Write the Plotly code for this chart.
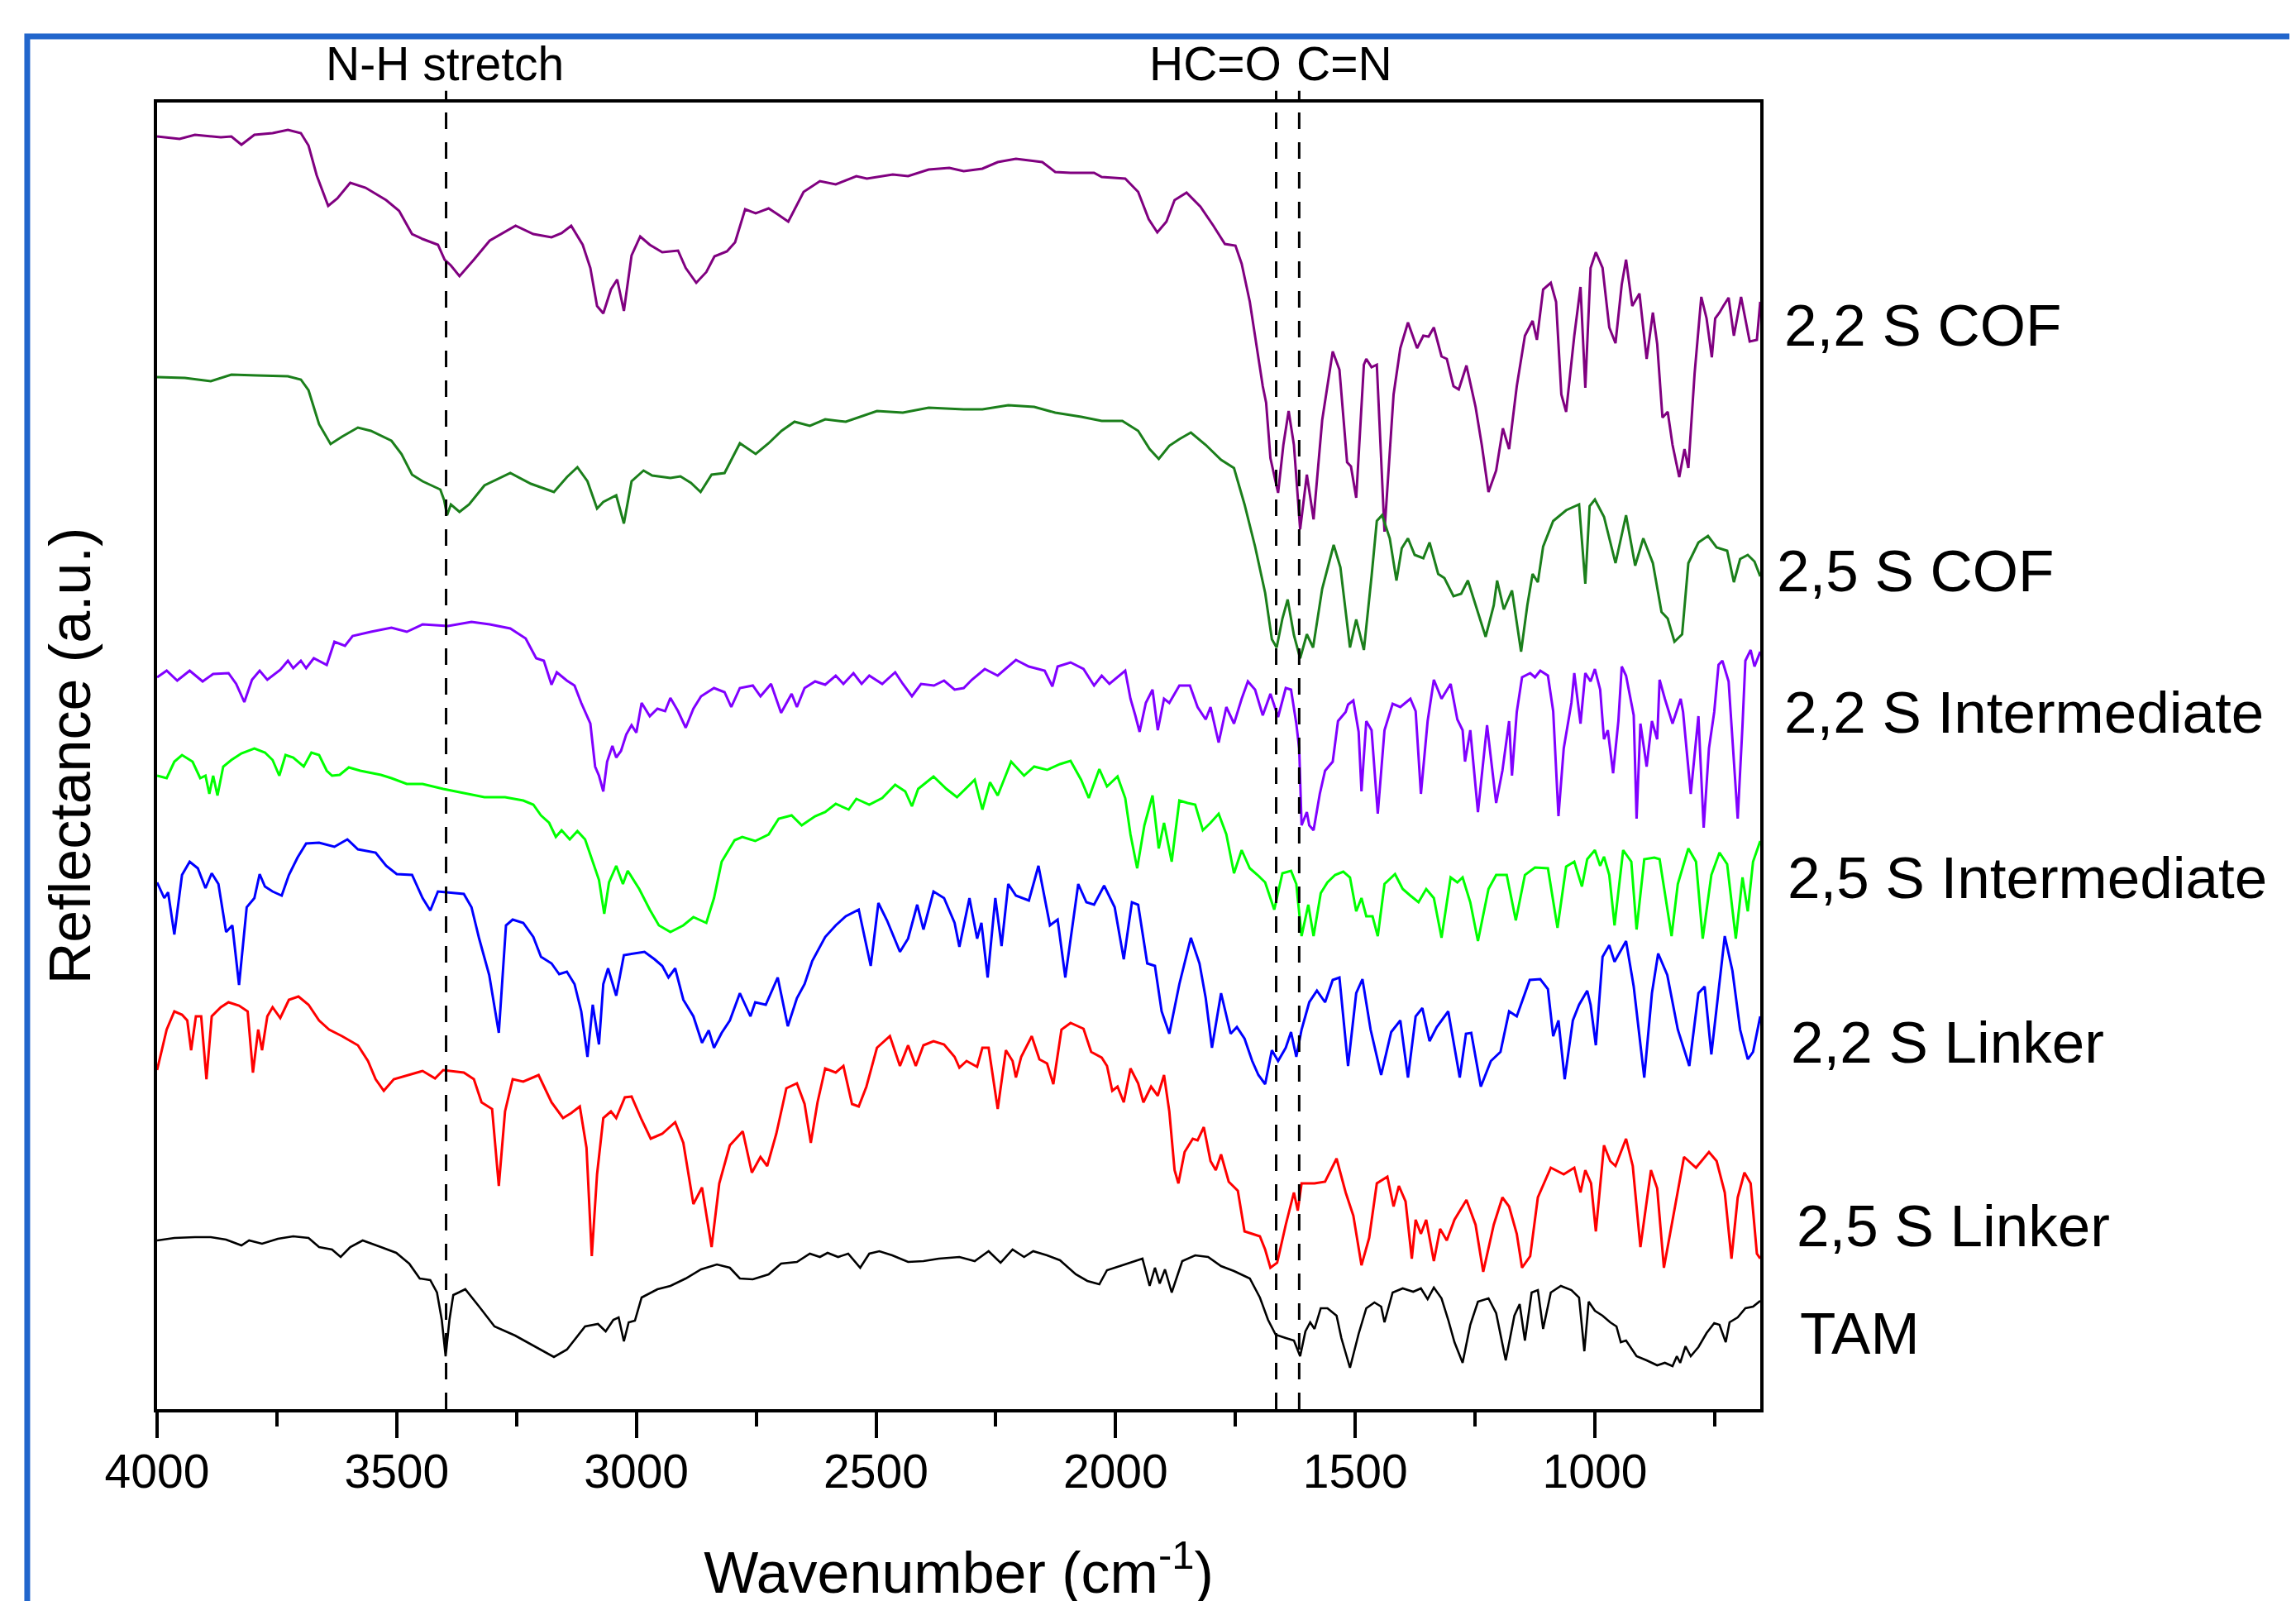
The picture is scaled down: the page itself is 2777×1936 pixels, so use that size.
import plotly.graph_objects as go

FONT = "Liberation Sans, Arial, sans-serif"

cof_22 = [(4000,153.9),(3953,153.6),(3921,154.1),(3867,153.8),(3845,153.9),(3824,152.9),(3797,154.1),(3759,154.3),(3727,154.7),(3700,154.3),(3684,152.8),(3667,149.2),(3643,145.5),(3624,146.4),(3597,148.3),(3565,147.7),(3522,146.2),(3495,144.9),(3468,142.1),(3446,141.5),(3414,140.8),(3400,139.0),(3387,138.3),(3369,137.0),(3339,139.0),(3306,141.3),(3252,143.1),(3215,142.1),(3177,141.7),(3156,142.2),(3136,143.1),(3112,140.8),(3096,138.0),(3082,133.4),(3069,132.5),(3053,135.4),(3040,136.6),(3026,132.8),(3010,139.5),(2992,141.8),(2972,140.8),(2946,139.9),(2913,140.1),(2897,138.0),(2875,136.2),(2854,137.5),(2837,139.4),(2811,140.0),(2794,141.1),(2773,145.1),(2751,144.6),(2724,145.2),(2703,144.4),(2683,143.6),(2651,147.2),(2617,148.5),(2584,148.1),(2541,149.1),(2519,148.8),(2465,149.3),(2433,149.1),(2390,149.9),(2347,150.1),(2317,149.7),(2278,150.0),(2246,150.8),(2208,151.2),(2153,150.8),(2126,149.6),(2094,149.5),(2045,149.5),(2029,149.0),(1980,148.8),(1953,147.2),(1931,143.9),(1913,142.3),(1894,143.6),(1877,146.2),(1852,147.1),(1823,145.4),(1796,143.1),(1772,140.9),(1750,140.7),(1737,138.5),(1720,133.9),(1704,127.8),(1693,123.7),(1686,121.7),(1677,115.0),(1661,110.8),(1650,116.6),(1639,120.7),(1628,116.6),(1615,106.4),(1601,113.0),(1587,107.6),(1569,119.6),(1547,127.9),(1533,125.7),(1517,114.5),(1509,114.0),(1498,110.2),(1482,126.3),(1477,127.0),(1466,126.0),(1455,126.3),(1439,106.1),(1420,122.7),(1406,128.3),(1390,131.4),(1371,128.3),(1358,129.8),(1347,129.7),(1336,130.8),(1320,127.3),(1309,127.0),(1295,123.7),(1284,123.3),(1268,126.2),(1249,121.2),(1236,116.6),(1222,110.9),(1206,113.5),(1192,118.6),(1179,116.1),(1163,123.7),(1146,129.8),(1130,131.6),(1121,129.3),(1108,135.4),(1092,136.2),(1081,133.9),(1070,122.7),(1060,120.6),(1043,129.8),(1030,135.7),(1020,123.5),(1009,138.0),(998,139.9),(984,138.0),(970,130.8),(957,128.9),(944,136.0),(935,139.0),(922,133.4),(907,134.9),(892,127.0),(879,132.6),(870,128.8),(859,119.9),(848,120.6),(838,116.6),(824,112.7),(813,116.1),(805,113.8),(792,125.2),(778,134.5),(767,131.9),(756,127.2),(749,131.9),(740,132.6),(732,133.4),(721,134.4),(710,129.8),(695,134.5),(677,129.1),(662,129.3),(655,133.9)]

cof_25 = [(4000,124.8),(3942,124.7),(3888,124.3),(3845,125.1),(3791,125.0),(3727,124.9),(3700,124.5),(3684,123.2),(3662,119.1),(3638,116.7),(3614,117.6),(3581,118.7),(3554,118.3),(3511,117.1),(3490,115.5),(3468,113.0),(3446,112.2),(3409,111.2),(3401,109.9),(3395,108.1),(3387,109.4),(3369,108.5),(3349,109.4),(3317,111.7),(3263,113.2),(3220,111.9),(3172,110.9),(3145,112.7),(3123,113.9),(3102,112.2),(3082,108.9),(3069,109.7),(3042,110.5),(3026,107.1),(3010,112.2),(2985,113.5),(2967,112.9),(2929,112.6),(2908,112.8),(2886,112.0),(2866,110.9),(2843,113.0),(2816,113.2),(2784,116.8),(2751,115.5),(2724,116.8),(2697,118.3),(2670,119.4),(2638,118.9),(2606,119.7),(2563,119.4),(2530,120.1),(2498,120.7),(2444,120.5),(2390,121.1),(2317,120.9),(2278,120.9),(2224,121.4),(2170,121.2),(2126,120.5),(2072,120.0),(2029,119.5),(1986,119.5),(1953,118.3),(1929,116.1),(1910,114.9),(1888,116.5),(1867,117.3),(1843,118.1),(1812,116.6),(1780,114.8),(1753,113.8),(1731,109.4),(1709,104.3),(1688,98.7),(1674,93.1),(1664,92.1),(1652,95.6),(1641,97.9),(1628,93.6),(1615,90.8),(1601,93.7),(1588,92.1),(1569,99.2),(1545,104.5),(1531,101.8),(1511,92.1),(1498,95.5),(1482,91.8),(1466,100.7),(1455,107.4),(1444,108.1),(1428,105.3),(1414,100.2),(1403,104.1),(1390,105.3),(1376,103.3),(1358,102.9),(1345,104.8),(1327,101.0),(1314,100.5),(1295,98.3),(1279,98.6),(1265,100.2),(1249,97.2),(1228,93.4),(1211,97.2),(1204,100.2),(1190,96.7),(1173,99.0),(1154,91.6),(1141,97.2),(1130,101.0),(1119,100.0),(1108,104.3),(1087,107.4),(1060,108.7),(1033,109.4),(1020,99.8),(1011,109.2),(1000,110.0),(981,107.9),(957,102.3),(935,108.1),(916,102.0),(899,105.3),(879,102.3),(861,96.4),(848,95.6),(834,92.8),(818,93.7),(805,102.3),(784,104.8),(764,105.6),(746,104.2),(724,103.8),(710,100.0),(697,102.8),(681,103.3),(667,102.5),(655,100.7)]

int_22 = [(4000,88.5),(3980,89.3),(3958,88.1),(3932,89.3),(3905,88.0),(3883,88.9),(3851,89.0),(3835,87.7),(3818,85.5),(3802,88.2),(3786,89.3),(3770,88.2),(3743,89.4),(3727,90.5),(3716,89.6),(3700,90.5),(3689,89.6),(3673,90.8),(3646,90.0),(3630,92.8),(3608,92.3),(3592,93.5),(3554,94.0),(3511,94.5),(3479,94.0),(3446,94.9),(3393,94.7),(3344,95.2),(3306,94.9),(3263,94.4),(3231,93.2),(3209,90.8),(3193,90.5),(3177,87.6),(3166,89.1),(3145,88.1),(3129,87.5),(3115,85.4),(3096,82.9),(3086,77.7),(3078,76.6),(3069,74.7),(3061,78.3),(3050,80.2),(3042,78.8),(3032,79.6),(3021,81.6),(3010,82.7),(3000,81.8),(2989,85.4),(2972,83.8),(2956,84.7),(2940,84.4),(2929,86.0),(2913,84.4),(2897,82.4),(2881,84.7),(2865,86.2),(2838,87.2),(2816,86.7),(2802,84.9),(2784,87.2),(2757,87.5),(2741,86.2),(2719,87.7),(2698,84.2),(2676,86.5),(2665,84.9),(2649,87.2),(2627,88.0),(2606,87.6),(2584,88.7),(2568,87.7),(2547,89.0),(2530,87.7),(2514,88.7),(2487,87.7),(2460,89.1),(2444,87.7),(2425,86.2),(2406,87.7),(2379,87.5),(2358,88.1),(2336,87.0),(2317,87.2),(2300,88.2),(2273,89.5),(2246,88.7),(2208,90.6),(2181,89.8),(2148,89.3),(2132,87.4),(2121,89.8),(2094,90.3),(2067,89.5),(2045,87.5),(2029,88.7),(2013,87.7),(1980,89.3),(1969,85.9),(1959,83.9),(1950,81.9),(1937,85.4),(1923,87.0),(1912,82.1),(1899,85.9),(1888,85.4),(1867,87.5),(1845,87.5),(1829,84.9),(1812,83.4),(1802,84.9),(1785,80.6),(1769,84.9),(1753,82.9),(1737,85.9),(1724,88.0),(1709,87.0),(1693,83.9),(1677,86.5),(1661,83.7),(1645,87.2),(1634,87.0),(1623,82.9),(1617,79.9),(1612,70.6),(1601,72.2),(1596,70.6),(1587,70.0),(1574,74.4),(1563,77.2),(1547,78.3),(1536,83.2),(1520,84.3),(1515,85.2),(1504,85.7),(1493,81.9),(1487,74.7),(1477,83.2),(1466,82.1),(1453,72.0),(1439,82.1),(1422,85.3),(1406,84.9),(1385,85.9),(1374,84.4),(1363,74.4),(1349,83.2),(1336,88.2),(1320,85.9),(1301,87.7),(1287,83.4),(1276,82.1),(1271,78.3),(1260,82.1),(1244,72.2),(1225,82.7),(1206,73.3),(1193,77.2),(1179,83.2),(1173,76.6),(1163,84.3),(1152,88.5),(1135,89.0),(1125,88.5),(1114,89.3),(1098,88.7),(1087,84.4),(1076,71.7),(1065,79.9),(1049,85.4),(1043,89.0),(1030,82.9),(1020,89.0),(1009,88.0),(1000,89.5),(989,87.0),(981,81.0),(973,82.1),(962,76.9),(951,83.2),(944,89.8),(935,88.7),(919,83.9),(913,71.4),(905,82.9),(892,77.7),(881,83.2),(870,81.0),(865,88.2),(854,85.9),(838,82.9),(821,85.9),(816,84.3),(800,74.4),(789,81.0),(784,83.8),(773,70.3),(762,79.9),(751,84.3),(742,90.0),(734,90.5),(721,88.0),(713,81.0),(702,71.4),(692,82.7),(686,90.5),(675,91.8),(667,89.8),(655,91.6)]

int_25 = [(4000,76.6),(3980,76.3),(3964,78.3),(3948,79.1),(3926,78.3),(3910,76.3),(3899,76.6),(3891,74.4),(3883,76.6),(3874,74.2),(3862,77.7),(3845,78.5),(3824,79.3),(3797,79.9),(3775,79.4),(3759,78.5),(3745,76.6),(3732,79.1),(3716,78.8),(3694,77.7),(3678,79.4),(3662,79.1),(3646,77.2),(3635,76.6),(3619,76.7),(3600,77.6),(3576,77.2),(3533,76.7),(3511,76.3),(3479,75.6),(3446,75.6),(3403,75.0),(3360,74.5),(3317,74.0),(3274,74.0),(3236,73.6),(3215,73.1),(3199,71.8),(3182,70.9),(3168,69.2),(3156,70.0),(3139,68.9),(3123,69.9),(3107,68.9),(3091,66.2),(3078,64.0),(3067,59.9),(3057,63.7),(3042,65.7),(3028,63.5),(3018,65.1),(2994,62.9),(2972,60.4),(2953,58.5),(2929,57.7),(2902,58.5),(2881,59.5),(2854,58.8),(2838,61.8),(2822,66.2),(2795,68.8),(2779,69.2),(2752,68.7),(2724,69.5),(2703,71.4),(2676,71.8),(2655,70.6),(2627,71.7),(2606,72.2),(2584,73.2),(2557,72.5),(2541,73.8),(2514,73.1),(2487,73.9),(2460,75.5),(2439,74.7),(2425,72.9),(2412,75.0),(2380,76.5),(2353,75.0),(2331,74.0),(2294,76.1),(2278,72.5),(2262,75.8),(2246,74.2),(2218,78.3),(2191,76.6),(2170,77.7),(2143,77.3),(2116,78.0),(2094,78.4),(2072,76.1),(2056,73.9),(2034,77.4),(2018,75.3),(1996,76.5),(1980,73.9),(1969,69.5),(1955,65.4),(1940,70.6),(1923,74.2),(1910,67.8),(1899,70.9),(1883,66.2),(1867,73.6),(1850,73.3),(1834,73.1),(1818,70.0),(1802,70.9),(1785,72.0),(1769,69.5),(1753,64.8),(1737,67.6),(1720,65.4),(1704,64.6),(1688,63.7),(1669,60.4),(1652,64.8),(1634,65.1),(1623,63.5),(1612,57.2),(1598,61.0),(1587,57.2),(1572,62.4),(1558,63.7),(1542,64.6),(1525,65.0),(1511,64.3),(1498,60.2),(1487,61.8),(1477,59.6),(1464,59.6),(1453,57.2),(1439,63.5),(1417,64.7),(1401,62.9),(1385,62.1),(1368,61.3),(1352,62.9),(1336,61.8),(1320,57.0),(1301,64.3),(1287,63.7),(1276,64.3),(1260,61.3),(1244,56.6),(1222,62.9),(1206,64.6),(1184,64.6),(1165,59.1),(1146,64.6),(1125,65.5),(1098,65.4),(1078,58.2),(1060,65.6),(1043,66.2),(1027,63.2),(1016,66.5),(1000,67.6),(989,65.7),(981,66.8),(970,64.6),(959,58.5),(941,67.6),(924,66.2),(913,58.0),(897,66.5),(876,66.7),(865,66.5),(849,60.7),(840,57.2),(827,63.5),(805,67.8),(789,66.2),(775,56.9),(757,64.6),(740,67.3),(724,65.9),(706,56.9),(692,64.3),(681,60.2),(670,66.2),(655,68.7)]

link_22 = [(4000,63.7),(3985,61.8),(3977,62.5),(3964,57.4),(3948,64.6),(3932,66.2),(3915,65.4),(3899,63.0),(3886,64.8),(3872,63.5),(3856,57.7),(3843,58.5),(3829,51.3),(3813,60.7),(3797,61.8),(3786,64.7),(3775,63.2),(3759,62.6),(3740,62.1),(3725,64.6),(3707,66.7),(3689,68.4),(3662,68.5),(3630,68.0),(3603,68.9),(3581,67.7),(3544,67.3),(3522,65.7),(3500,64.7),(3468,64.6),(3446,61.8),(3430,60.3),(3414,62.6),(3393,62.5),(3360,62.3),(3344,60.7),(3328,56.9),(3307,52.5),(3287,45.5),(3272,58.5),(3258,59.2),(3236,58.8),(3215,57.1),(3199,54.7),(3177,53.9),(3161,52.6),(3145,52.9),(3129,51.4),(3115,48.1),(3102,42.6),(3091,48.9),(3078,44.1),(3069,51.4),(3059,53.3),(3042,50.0),(3026,54.9),(3000,55.1),(2983,55.3),(2962,54.4),(2946,53.6),(2933,52.2),(2919,53.3),(2902,49.5),(2881,47.5),(2863,44.3),(2849,45.8),(2838,43.7),(2822,45.5),(2805,47.0),(2784,50.3),(2762,47.5),(2752,49.2),(2730,48.9),(2705,52.2),(2684,46.3),(2665,49.7),(2649,51.4),(2633,54.2),(2606,57.1),(2584,58.5),(2563,59.6),(2536,60.4),(2511,53.6),(2495,61.2),(2477,59.1),(2450,55.3),(2433,56.9),(2414,61.0),(2401,58.0),(2380,62.6),(2358,61.8),(2336,58.8),(2326,55.9),(2305,61.8),(2289,56.9),(2280,58.8),(2267,52.2),(2251,61.8),(2238,56.0),(2224,63.5),(2208,62.1),(2181,61.5),(2161,65.7),(2137,58.5),(2121,59.2),(2105,52.2),(2078,63.5),(2061,61.3),(2045,61.0),(2024,63.3),(2002,60.7),(1983,54.4),(1966,61.3),(1953,61.0),(1934,53.9),(1918,53.6),(1904,48.1),(1888,45.4),(1867,51.4),(1843,57.0),(1825,53.9),(1812,49.7),(1799,43.7),(1780,50.3),(1760,45.4),(1747,46.2),(1731,44.8),(1715,42.1),(1702,40.4),(1688,39.3),(1674,43.4),(1661,42.1),(1645,43.7),(1634,45.6),(1623,42.6),(1612,45.9),(1596,49.2),(1580,50.6),(1563,49.2),(1547,51.9),(1533,52.2),(1515,41.5),(1498,50.3),(1485,52.0),(1468,45.9),(1446,40.4),(1425,45.6),(1406,47.0),(1390,40.1),(1374,47.5),(1360,48.5),(1345,44.5),(1330,46.2),(1306,48.1),(1282,40.1),(1269,45.4),(1258,45.5),(1238,39.0),(1217,42.1),(1197,43.2),(1179,48.1),(1163,47.5),(1136,51.9),(1114,52.0),(1098,50.8),(1087,45.1),(1076,47.0),(1063,39.9),(1046,47.0),(1033,48.9),(1016,50.6),(1009,48.9),(998,44.0),(984,54.7),(970,56.1),(959,54.1),(935,56.6),(919,51.1),(897,40.1),(881,50.3),(868,55.1),(849,52.5),(827,45.9),(803,41.5),(784,50.3),(771,51.1),(757,42.9),(740,52.0),(729,57.2),(713,53.0),(697,45.9),(681,42.3),(670,43.2),(655,47.5)]

link_25 = [(4000,41.0),(3980,45.9),(3964,48.1),(3948,47.7),(3937,47.0),(3929,43.4),(3919,47.5),(3908,47.5),(3897,39.9),(3886,47.5),(3867,48.6),(3851,49.2),(3829,48.8),(3811,48.1),(3800,40.7),(3789,45.9),(3781,43.4),(3770,47.5),(3759,48.6),(3743,47.3),(3725,49.5),(3705,49.9),(3684,48.9),(3662,47.0),(3641,45.9),(3614,45.1),(3581,44.0),(3560,42.1),(3544,39.9),(3527,38.5),(3506,39.9),(3474,40.4),(3446,40.9),(3420,40.0),(3403,41.0),(3360,40.7),(3339,39.9),(3323,37.1),(3301,36.3),(3287,27.0),(3274,36.0),(3258,39.9),(3236,39.6),(3204,40.4),(3177,37.1),(3153,35.2),(3136,35.8),(3118,36.6),(3104,31.6),(3093,18.5),(3082,28.4),(3069,35.2),(3053,36.0),(3042,35.2),(3024,37.7),(3010,37.8),(2989,35.0),(2970,32.7),(2946,33.3),(2919,34.7),(2902,32.2),(2881,24.8),(2863,26.8),(2843,19.6),(2827,27.3),(2805,31.9),(2778,33.6),(2759,28.6),(2741,30.5),(2727,29.4),(2708,33.3),(2687,38.8),(2665,39.4),(2649,36.9),(2636,32.2),(2622,37.1),(2606,41.2),(2584,40.7),(2568,41.5),(2550,36.9),(2536,36.6),(2520,39.0),(2498,43.7),(2471,45.1),(2450,41.5),(2433,44.0),(2417,41.5),(2401,44.0),(2380,44.5),(2358,44.1),(2336,42.6),(2326,41.3),(2311,42.1),(2289,41.4),(2278,43.7),(2265,43.7),(2246,36.3),(2229,43.4),(2215,42.1),(2208,40.1),(2197,42.6),(2175,45.1),(2159,42.3),(2143,41.8),(2130,39.3),(2113,45.9),(2094,46.7),(2067,46.0),(2051,43.2),(2029,42.5),(2018,41.5),(2007,38.5),(1996,39.0),(1983,37.1),(1969,41.2),(1953,39.4),(1942,37.1),(1926,39.0),(1912,37.9),(1899,40.4),(1888,36.0),(1877,28.9),(1869,27.3),(1856,31.1),(1839,32.7),(1829,32.5),(1816,34.1),(1802,30.0),(1791,28.9),(1780,30.8),(1764,27.5),(1745,26.4),(1731,21.5),(1715,21.2),(1699,20.9),(1688,19.3),(1677,17.1),(1663,17.7),(1645,22.3),(1628,26.2),(1620,24.0),(1612,27.3),(1585,27.3),(1563,27.5),(1539,30.3),(1520,26.2),(1504,23.4),(1487,17.4),(1471,20.7),(1455,27.3),(1433,28.1),(1420,24.5),(1409,27.0),(1395,25.1),(1382,18.2),(1374,22.9),(1363,21.2),(1352,22.9),(1336,17.9),(1323,21.8),(1309,20.4),(1293,22.9),(1268,25.3),(1249,22.3),(1233,16.6),(1211,22.3),(1193,25.6),(1179,24.5),(1163,21.2),(1152,17.1),(1135,18.5),(1119,25.6),(1092,29.2),(1065,28.4),(1043,29.2),(1030,26.2),(1020,28.9),(1008,27.3),(998,21.5),(981,31.9),(968,30.0),(957,29.4),(935,32.7),(921,29.4),(905,19.6),(883,28.9),(870,26.7),(856,17.1),(838,22.9),(814,30.5),(789,29.2),(762,31.1),(746,30.0),(729,26.2),(715,18.2),(702,25.6),(688,28.6),(675,27.3),(662,18.8),(655,18.2)]

tam = [(4000,20.4),(3964,20.7),(3921,20.8),(3888,20.8),(3856,20.5),(3824,19.8),(3808,20.4),(3781,20.0),(3748,20.6),(3716,20.9),(3684,20.7),(3662,19.6),(3635,19.3),(3617,18.4),(3597,19.6),(3571,20.4),(3533,19.6),(3501,18.9),(3474,17.6),(3452,15.8),(3430,15.6),(3416,14.1),(3406,10.8),(3398,6.4),(3390,10.8),(3382,13.8),(3371,14.1),(3357,14.5),(3328,12.4),(3296,10.0),(3253,8.9),(3210,7.5),(3172,6.3),(3145,7.2),(3107,10.0),(3080,10.3),(3064,9.4),(3048,10.8),(3037,11.1),(3026,8.2),(3016,10.5),(3003,10.7),(2989,13.5),(2956,14.5),(2929,14.9),(2897,15.8),(2865,16.9),(2832,17.5),(2805,17.1),(2784,15.8),(2757,15.7),(2724,16.3),(2698,17.6),(2665,17.8),(2638,18.8),(2617,18.4),(2601,18.9),(2579,18.4),(2558,18.8),(2533,17.1),(2514,18.8),(2493,19.1),(2466,18.6),(2433,17.8),(2401,17.9),(2369,18.2),(2326,18.4),(2294,17.9),(2265,19.1),(2240,17.7),(2215,19.3),(2191,18.4),(2172,19.1),(2143,18.6),(2116,18.0),(2083,16.3),(2059,15.5),(2034,15.1),(2018,16.8),(1986,17.4),(1964,17.8),(1944,18.2),(1929,14.9),(1918,17.1),(1908,15.2),(1897,16.9),(1883,14.1),(1861,17.9),(1834,18.6),(1807,18.4),(1780,17.3),(1753,16.7),(1720,15.8),(1699,13.5),(1682,10.8),(1666,9.0),(1645,8.6),(1628,8.3),(1615,6.4),(1604,9.4),(1594,10.5),(1585,9.7),(1572,12.2),(1558,12.2),(1539,11.3),(1529,8.6),(1511,5.0),(1493,9.1),(1477,12.2),(1460,12.9),(1446,12.4),(1439,10.5),(1422,14.1),(1401,14.6),(1379,14.2),(1363,14.6),(1349,13.3),(1336,14.7),(1320,13.4),(1306,10.8),(1293,8.1),(1276,5.6),(1260,10.2),(1244,13.0),(1222,13.4),(1206,11.6),(1186,5.9),(1168,11.3),(1157,12.7),(1146,8.3),(1132,14.1),(1119,14.4),(1108,9.7),(1092,14.1),(1071,14.9),(1049,14.4),(1033,13.5),(1022,7.0),(1013,13.0),(1000,11.9),(984,11.3),(968,10.5),(955,10.0),(946,8.1),(935,8.3),(913,6.4),(892,5.9),(870,5.3),(854,5.6),(838,5.2),(829,6.4),(822,5.6),(811,7.6),(800,6.4),(784,7.5),(767,9.2),(751,10.4),(740,10.2),(727,8.1),(719,10.5),(702,11.1),(686,12.2),(670,12.4),(655,13.1)]

series_names = ["2,2 S COF", "2,5 S COF", "2,2 S Intermediate", "2,5 S Intermediate",
                "2,2 S Linker", "2,5 S Linker", "TAM"]
series_data = [cof_22, cof_25, int_22, int_25, link_22, link_25, tam]

# marked bands (cm-1)
band_positions = [3397, 1665, 1617]
x_ticks = [4000, 3500, 3000, 2500, 2000, 1500, 1000]
x_minor_ticks = [3750, 3250, 2750, 2250, 1750, 1250, 750]

# ---- styling ----
colors = ["#800080", "#1b7f1b", "#8000ff", "#00ff00", "#0000ff", "#ff0000", "#000000"]
widths = [3, 3, 3, 3, 3, 3, 2.6]
label_y = [131.1, 101.4, 84.3, 64.3, 44.4, 22.2, 9.2]
label_x = [1.0139, 1.0093, 1.0139, 1.016, 1.0181, 1.0217, 1.0237]

fig = go.Figure()
for name, pts, col, w in zip(series_names, series_data, colors, widths):
    fig.add_trace(go.Scatter(
        x=[p[0] for p in pts], y=[p[1] for p in pts], mode="lines", name=name,
        line=dict(color=col, width=w), showlegend=False, hoverinfo="x+y+name"))

shapes = []
for b in band_positions:
    shapes.append(dict(type="line", xref="x", yref="paper", x0=b, x1=b, y0=0, y1=1.009,
                       line=dict(color="black", width=3, dash="20px,16px"), layer="above"))
# outer blue frame
shapes.append(dict(type="rect", xref="paper", yref="paper", x0=-0.081, x1=1.6, y0=-0.6, y1=1.0506,
                   line=dict(color="#2266cc", width=7), fillcolor="rgba(0,0,0,0)", layer="below"))

annotations = []
for name, lx, ly in zip(series_names, label_x, label_y):
    annotations.append(dict(text=name, xref="paper", yref="y", x=lx, y=ly, xanchor="left",
                            yanchor="middle", showarrow=False,
                            font=dict(family=FONT, size=71, color="black")))
annotations.append(dict(text="N-H stretch", xref="x", yref="paper", x=3400, y=1.0297,
                        xanchor="center", yanchor="middle", showarrow=False,
                        font=dict(family=FONT, size=57, color="black")))
annotations.append(dict(text="HC=O", xref="x", yref="paper", x=1650, y=1.0297,
                        xanchor="right", yanchor="middle", showarrow=False,
                        font=dict(family=FONT, size=57, color="black")))
annotations.append(dict(text="C=N", xref="x", yref="paper", x=1627, y=1.0297,
                        xanchor="left", yanchor="middle", showarrow=False,
                        font=dict(family=FONT, size=57, color="black")))

# the page body adds an 8 px offset, so margins are reduced by 8 px at left/top
fig.update_layout(
    width=2777, height=1936,
    margin=dict(l=182, r=656, t=116, b=240),
    paper_bgcolor="white", plot_bgcolor="white",
    font=dict(family=FONT, color="black"),
    shapes=shapes, annotations=annotations,
    showlegend=False,
)
fig.update_xaxes(
    range=[4000, 655], tickmode="array", tickvals=x_ticks,
    ticks="outside", ticklen=31, tickwidth=4, tickcolor="black",
    showline=True, linewidth=4, linecolor="black", mirror=True,
    showgrid=False, zeroline=False, ticklabelstandoff=-8,
    tickfont=dict(family=FONT, size=57, color="black"),
    minor=dict(tickmode="array", tickvals=x_minor_ticks, ticks="outside", ticklen=17,
               tickwidth=4, tickcolor="black", showgrid=False),
    title=dict(text="Wavenumber (cm<sup>-1</sup>)", font=dict(family=FONT, size=70, color="black"),
               standoff=68),
    automargin=False,
)
fig.update_yaxes(
    range=[0, 158], showticklabels=False, ticks="",
    showline=True, linewidth=4, linecolor="black", mirror=True,
    showgrid=False, zeroline=False,
    title=dict(text="Reflectance (a.u.)", font=dict(family=FONT, size=70, color="black"),
               standoff=55),
    automargin=False,
)

fig.write_html("out.html")
